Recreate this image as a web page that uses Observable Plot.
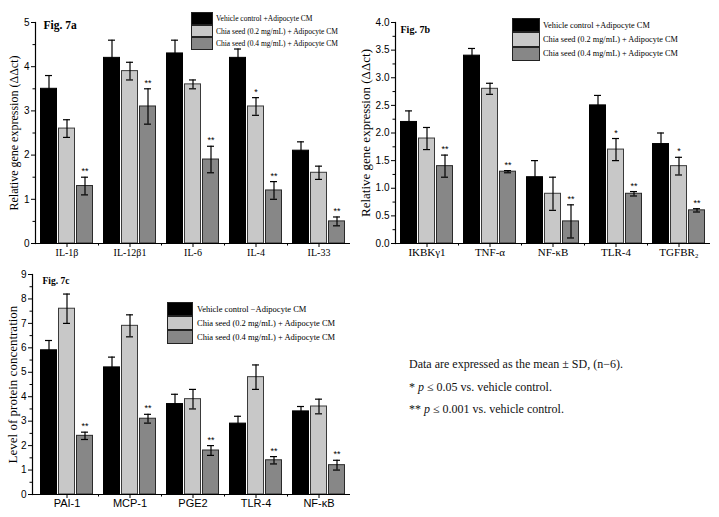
<!DOCTYPE html>
<html>
<head>
<meta charset="utf-8">
<script src="https://cdn.jsdelivr.net/npm/d3@7"></script>
<script src="https://cdn.jsdelivr.net/npm/@observablehq/plot@0.6"></script>
<style>
  html, body { margin: 0; padding: 0; background: #fff; }
  #root { position: relative; width: 719px; height: 517px; overflow: hidden; background: #fff; }
  .panel { position: absolute; }
  .legend { position: absolute; font-family: "Liberation Serif", serif; color: #000; }
  .legend .row { display: flex; align-items: center; }
  .legend .sw { box-sizing: border-box; border: 1.2px solid #222; }
  .legend .lab { white-space: nowrap; }
  .note { position: absolute; left: 409px; font-family: "Liberation Serif", serif; font-size: 12px; color: #111; white-space: nowrap; }
</style>
</head>
<body>
<div id="root"></div>
<script>
// ---------- data ----------
const seriesNames = ["Vehicle control +Adipocyte CM", "Chia seed (0.2 mg/mL) + Adipocyte CM", "Chia seed (0.4 mg/mL) + Adipocyte CM"];
const seriesNamesC = ["Vehicle control −Adipocyte CM", "Chia seed (0.2 mg/mL) + Adipocyte CM", "Chia seed (0.4 mg/mL) + Adipocyte CM"];

// Fig. 7a
const catsA = ["IL-1β", "IL-12β1", "IL-6", "IL-4", "IL-33"];
const vehA = [3.5, 4.2, 4.3, 4.2, 2.1];
const sdVehA = [0.3, 0.4, 0.3, 0.2, 0.2];
const c02A = [2.6, 3.9, 3.6, 3.1, 1.6];
const sdC02A = [0.2, 0.2, 0.1, 0.2, 0.15];
const c04A = [1.3, 3.1, 1.9, 1.2, 0.5];
const sdC04A = [0.2, 0.4, 0.3, 0.2, 0.1];
const sigVehA = ["", "", "", "", ""];
const sigC02A = ["", "", "", "*", ""];
const sigC04A = ["**", "**", "**", "**", "**"];

// Fig. 7b
const catsB = ["IKBKγ1", "TNF-α", "NF-κB", "TLR-4", "TGFBR₂"];
const vehB = [2.2, 3.4, 1.2, 2.5, 1.8];
const sdVehB = [0.2, 0.13, 0.3, 0.18, 0.2];
const c02B = [1.9, 2.8, 0.9, 1.7, 1.4];
const sdC02B = [0.2, 0.1, 0.3, 0.2, 0.16];
const c04B = [1.4, 1.3, 0.4, 0.9, 0.6];
const sdC04B = [0.2, 0.02, 0.3, 0.04, 0.03];
const sigVehB = ["", "", "", "", ""];
const sigC02B = ["", "", "", "*", "*"];
const sigC04B = ["**", "**", "**", "**", "**"];

// Fig. 7c
const catsC = ["PAI-1", "MCP-1", "PGE2", "TLR-4", "NF-κB"];
const vehC = [5.9, 5.2, 3.7, 2.9, 3.4];
const sdVehC = [0.4, 0.42, 0.4, 0.3, 0.2];
const c02C = [7.6, 6.9, 3.9, 4.8, 3.6];
const sdC02C = [0.6, 0.45, 0.4, 0.5, 0.3];
const c04C = [2.4, 3.1, 1.8, 1.4, 1.2];
const sdC04C = [0.15, 0.18, 0.2, 0.15, 0.2];
const sigVehC = ["", "", "", "", ""];
const sigC02C = ["", "", "", "", ""];
const sigC04C = ["**", "**", "**", "**", "**"];

// ---------- helpers ----------
const fills = ["#000000", "#c8c8c8", "#878787"];
const strokes = ["#000000", "#3a3a3a", "#2a2a2a"];
const offsets = [-18, 0, 18];
const SERIF = "Liberation Serif, serif";
const SANS = "Liberation Sans, Arial, sans-serif";

function rowsOf(cats, vals, sds, sigs) {
  const out = [];
  vals.forEach((v, s) => cats.forEach((c, i) => out.push({cat: c, s, v: v[i], sd: sds[s][i], sig: sigs[s][i]})));
  return out;
}

function panel(o) {
  const rows = rowsOf(o.cats, o.vals, o.sds, o.sigs);
  const marks = [];
  const band = 63;
  const barW = 16;
  const ins = (band - barW) / 2;
  const capIns = (band - 7) / 2;
  for (let s = 0; s < 3; s++) {
    const d = rows.filter(r => r.s === s);
    marks.push(Plot.barY(d, {x: "cat", y: "v", fill: fills[s], stroke: strokes[s], strokeWidth: 1, insetLeft: ins, insetRight: ins, dx: offsets[s]}));
  }
  for (let s = 0; s < 3; s++) {
    const d = rows.filter(r => r.s === s);
    marks.push(Plot.ruleX(d, {x: "cat", y1: r => r.v - r.sd, y2: r => r.v + r.sd, stroke: "#000", strokeWidth: 1.2, dx: offsets[s]}));
    marks.push(Plot.tickY(d, {x: "cat", y: r => r.v + r.sd, stroke: "#000", strokeWidth: 1.2, insetLeft: capIns, insetRight: capIns, dx: offsets[s]}));
    marks.push(Plot.tickY(d, {x: "cat", y: r => r.v - r.sd, stroke: "#000", strokeWidth: 1.2, insetLeft: capIns, insetRight: capIns, dx: offsets[s]}));
    marks.push(Plot.text(d.filter(r => r.sig), {x: "cat", y: r => r.v + r.sd, text: "sig", dx: offsets[s], dy: -3, lineAnchor: "bottom", fontSize: 9, fontFamily: SANS, fill: "#000"}));
  }
  // axes
  marks.push(Plot.ruleY([0], {stroke: "#000", strokeWidth: 1.2}));
  marks.push(Plot.frame({anchor: "left", stroke: "#000", strokeWidth: 1.2}));
  marks.push(Plot.axisY({ticks: o.yTicks, tickSize: 4, tickPadding: 2, tickFormat: o.yFormat, fontSize: 10, fontFamily: SANS, label: null, stroke: "#000"}));
  marks.push(Plot.axisY({ticks: o.yMinor, tickSize: 2.5, tickFormat: () => "", label: null}));
  marks.push(Plot.axisX({tickSize: 4, tickPadding: o.xPad, fontSize: o.xFont, fontFamily: o.xFamily, label: null}));
  marks.push(Plot.axisX(o.cats.slice(0, 4), {tickSize: 2.5, tickFormat: () => "", label: null, dx: band / 2}));
  // titles
  marks.push(Plot.text([o.fig], {frameAnchor: "top-left", dx: o.figDx, dy: o.figDy, text: d => d, fontWeight: "bold", fontSize: o.figFont, fontFamily: SERIF, textAnchor: "start", lineAnchor: "top"}));
  marks.push(Plot.text([o.ylabel], {frameAnchor: "left", dx: o.ylabDx, text: d => d, rotate: -90, fontSize: o.ylabFont, fontFamily: SERIF, textAnchor: "middle"}));
  const chart = Plot.plot({
    width: o.width, height: o.height,
    marginLeft: o.ml, marginRight: o.mr, marginTop: o.mt, marginBottom: o.mb,
    style: {background: "transparent", color: "#000", overflow: "visible"},
    x: {domain: o.cats, padding: 0, range: o.xRange, axis: null},
    y: {domain: o.yDomain, axis: null},
    marks
  });
  const wrap = document.createElement("div");
  wrap.className = "panel";
  wrap.style.left = o.left + "px";
  wrap.style.top = o.top + "px";
  wrap.appendChild(chart);
  return wrap;
}

function legend(x, y, sw, rh, fs, labels, gap) {
  const div = document.createElement("div");
  div.className = "legend";
  div.style.left = x + "px";
  div.style.top = y + "px";
  labels.forEach((l, i) => {
    const r = document.createElement("div");
    r.className = "row";
    r.style.height = rh + "px";
    const s = document.createElement("div");
    s.className = "sw";
    s.style.width = sw + "px";
    s.style.height = rh + "px";
    s.style.background = fills[i];
    const t = document.createElement("div");
    t.className = "lab";
    t.style.fontSize = fs + "px";
    t.style.marginLeft = gap + "px";
    t.textContent = l;
    r.appendChild(s); r.appendChild(t);
    div.appendChild(r);
  });
  return div;
}

const root = document.getElementById("root");
const range = (a, b, st) => d3.range(a, b + 1e-9, st);

root.appendChild(panel({
  left: 0, top: 0, width: 360, height: 258, ml: 35, mr: 10, mt: 22, mb: 15,
  cats: catsA, vals: [vehA, c02A, c04A], sds: [sdVehA, sdC02A, sdC04A], sigs: [sigVehA, sigC02A, sigC04A],
  yDomain: [0, 5], yTicks: range(0, 5, 1), yMinor: range(0.5, 4.5, 1), yFormat: d3.format("d"),
  xPad: 1, xFont: 10, xFamily: SERIF,
  fig: "Fig. 7a", figDx: 8, figDy: -2, figFont: 11.5,
  ylabel: "Relative gene expression (ΔΔct)", ylabDx: -21, ylabFont: 12
}));

root.appendChild(panel({
  left: 360, top: 0, width: 359, height: 262, ml: 35, mr: 9, mt: 22, mb: 19,
  cats: catsB, vals: [vehB, c02B, c04B], sds: [sdVehB, sdC02B, sdC04B], sigs: [sigVehB, sigC02B, sigC04B],
  yDomain: [0, 4], yTicks: range(0, 4, 0.5), yMinor: range(0.25, 3.75, 0.5), yFormat: d3.format(".1f"),
  xPad: 1, xFont: 11, xFamily: SERIF,
  fig: "Fig. 7b", figDx: 5, figDy: 3, figFont: 10,
  ylabel: "Relative gene expression (ΔΔct)", ylabDx: -30, ylabFont: 13
}));

root.appendChild(panel({
  left: 0, top: 258, width: 360, height: 259, ml: 32, mr: 10, mt: 16, mb: 23, xRange: [34.5, 350],
  cats: catsC, vals: [vehC, c02C, c04C], sds: [sdVehC, sdC02C, sdC04C], sigs: [sigVehC, sigC02C, sigC04C],
  yDomain: [0, 9], yTicks: range(0, 9, 1), yMinor: range(0.5, 8.5, 1), yFormat: d3.format("d"),
  xPad: 1, xFont: 11, xFamily: SANS,
  fig: "Fig. 7c", figDx: 10, figDy: 3, figFont: 9.5,
  ylabel: "Level of protein concentration", ylabDx: -19.5, ylabFont: 13
}));

root.appendChild(legend(191, 12, 22, 12.7, 7.5, seriesNames, 3));
root.appendChild(legend(512, 18, 28, 14.3, 8.3, seriesNames, 3));
root.appendChild(legend(167, 302, 26, 14, 8.5, seriesNamesC, 4));

const notes = [
  {top: 357, html: "Data are expressed as the mean ± SD, (n−6)."},
  {top: 380, html: "* <i>p</i> ≤ 0.05 vs. vehicle control."},
  {top: 402, html: "** <i>p</i> ≤ 0.001 vs. vehicle control."}
];
notes.forEach(n => {
  const d = document.createElement("div");
  d.className = "note";
  d.style.top = n.top + "px";
  d.innerHTML = n.html;
  root.appendChild(d);
});
</script>
</body>
</html>
